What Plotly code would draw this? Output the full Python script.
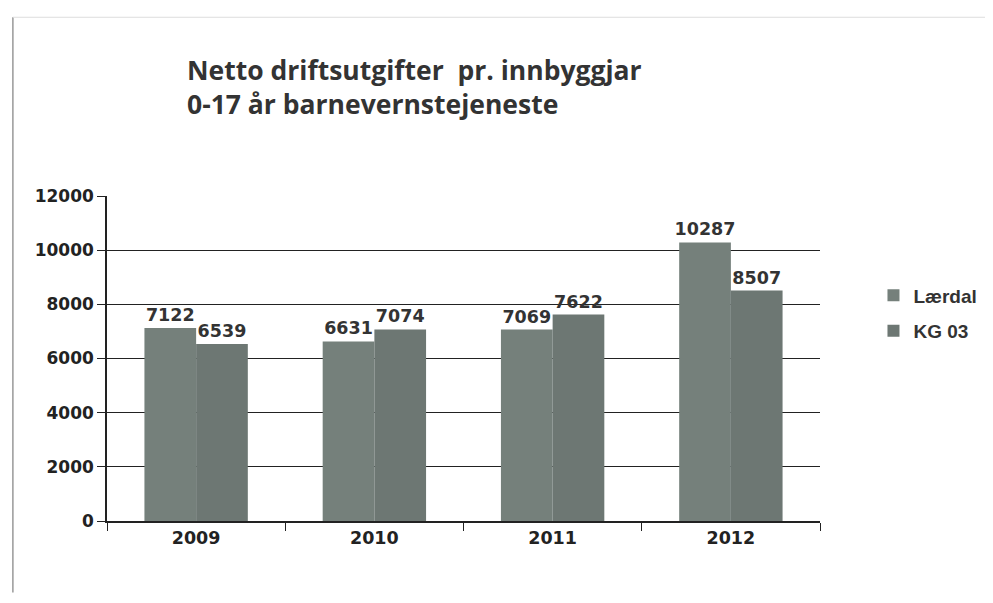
import plotly.graph_objects as go

years = ['2009', '2010', '2011', '2012']
laerdal = [7122, 6631, 7069, 10287]
kg03 = [6539, 7074, 7622, 8507]
y_ticks = [0, 2000, 4000, 6000, 8000, 10000, 12000]

label_font = dict(family='DejaVu Sans', size=17.5, color='#333333')

fig = go.Figure()
fig.add_trace(go.Bar(x=years, y=laerdal, name='<b>Lærdal</b>', legendgroup='a',
                     marker=dict(color='#75807b', line=dict(width=0)),
                     text=[f'<b>{v}</b>' for v in laerdal], textposition='outside',
                     textfont=label_font, cliponaxis=False, constraintext='none'))
fig.add_trace(go.Bar(x=years, y=kg03, name='<b>KG 03</b>', legendgroup='b',
                     marker=dict(color='#6d7773', line=dict(width=0)),
                     text=[f'<b>{v}</b>' for v in kg03], textposition='outside',
                     textfont=label_font, cliponaxis=False, constraintext='none'))

fig.update_yaxes(
    range=[0, 12000],
    tickvals=y_ticks,
    ticktext=[f'<b>{v}</b>' for v in y_ticks],
    tickfont=dict(family='DejaVu Sans', size=17, color='#222222'),
    showgrid=True, gridcolor='#222222', gridwidth=1,
    showline=True, linecolor='#222222', linewidth=1.5,
    ticks='outside', ticklen=8, tickcolor='#222222',
    zeroline=False,
)
fig.update_xaxes(
    tickvals=years,
    ticktext=[f'<b>{y}</b>' for y in years],
    tickfont=dict(family='DejaVu Sans', size=17.5, color='#222222'),
    showline=True, linecolor='#222222', linewidth=1.5,
    ticks='outside', ticklen=8, tickcolor='#222222',
    tickson='boundaries',
)

fig.update_layout(
    barmode='group',
    bargap=0.42,
    bargroupgap=0,
    width=993, height=603,
    margin=dict(l=99, r=181, t=188, b=90),
    plot_bgcolor='white', paper_bgcolor='white',
    title=dict(text='<b>Netto driftsutgifter  pr. innbyggjar<br>0-17 år barnevernstejeneste</b>',
               x=179 / 993, xanchor='left', xref='container',
               y=1 - 72 / 603, yanchor='top', yref='container',
               font=dict(family='Open Sans', size=26.5, color='#333333')),
    legend=dict(x=1.075, y=0.753, xanchor='left', yanchor='top',
                font=dict(family='Liberation Sans', size=19, color='#333333'),
                itemwidth=30, tracegroupgap=8, traceorder='grouped'),
    showlegend=True,
    shapes=[
        dict(type='line', xref='paper', yref='paper', x0=-0.132, x1=-0.132, y0=-0.22, y1=1.55,
             line=dict(color='#999999', width=1.5)),
        dict(type='line', xref='paper', yref='paper', x0=-0.132, x1=1.24, y0=1.55, y1=1.55,
             line=dict(color='#dddddd', width=1)),
    ],
)

fig.write_html("out.html")
